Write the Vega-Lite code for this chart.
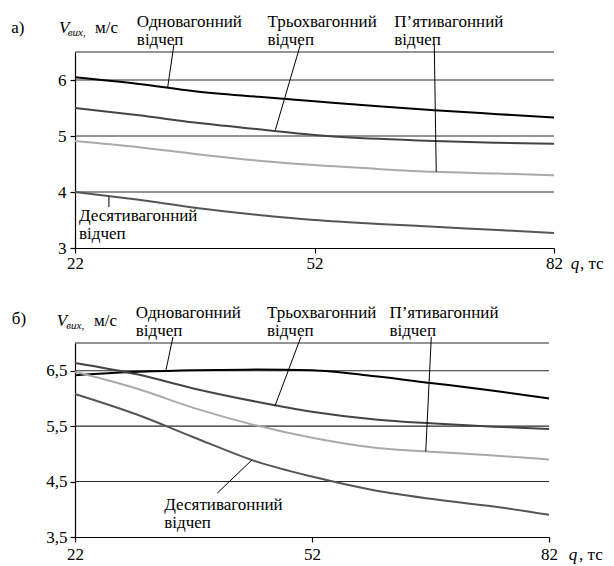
{
  "$schema": "https://vega.github.io/schema/vega-lite/v6.json",
  "padding": {"left": 11, "top": 12, "right": 5, "bottom": 5},
  "bounds": "flush",
  "spacing": 95,
  "background": "white",
  "config": {
    "view": {"stroke": null},
    "font": "Liberation Serif, Times New Roman, DejaVu Serif, serif",
    "axis": {"grid": false, "domainColor": "#000", "domainWidth": 1.2, "tickColor": "#000", "tickSize": 5, "tickWidth": 1.2, "labelFont": "Liberation Serif, Times New Roman, DejaVu Serif, serif", "labelFontSize": 17, "labelColor": "#000", "labelFlush": false, "title": null},
    "axisX": {"labelPadding": 2},
    "axisY": {"labelPadding": 4}
  },
  "datasets": {
    "lines": [
      {"panel": "a", "series": "Одновагонний", "q": 22, "v": 6.05},
      {"panel": "a", "series": "Одновагонний", "q": 30, "v": 5.93},
      {"panel": "a", "series": "Одновагонний", "q": 37, "v": 5.8},
      {"panel": "a", "series": "Одновагонний", "q": 45, "v": 5.7},
      {"panel": "a", "series": "Одновагонний", "q": 52, "v": 5.62},
      {"panel": "a", "series": "Одновагонний", "q": 60, "v": 5.53},
      {"panel": "a", "series": "Одновагонний", "q": 67, "v": 5.46},
      {"panel": "a", "series": "Одновагонний", "q": 75, "v": 5.39},
      {"panel": "a", "series": "Одновагонний", "q": 82, "v": 5.33},
      {"panel": "a", "series": "Трьохвагонний", "q": 22, "v": 5.5},
      {"panel": "a", "series": "Трьохвагонний", "q": 30, "v": 5.37},
      {"panel": "a", "series": "Трьохвагонний", "q": 37, "v": 5.24},
      {"panel": "a", "series": "Трьохвагонний", "q": 45, "v": 5.12},
      {"panel": "a", "series": "Трьохвагонний", "q": 52, "v": 5.02},
      {"panel": "a", "series": "Трьохвагонний", "q": 60, "v": 4.95},
      {"panel": "a", "series": "Трьохвагонний", "q": 67, "v": 4.91},
      {"panel": "a", "series": "Трьохвагонний", "q": 75, "v": 4.88},
      {"panel": "a", "series": "Трьохвагонний", "q": 82, "v": 4.86},
      {"panel": "a", "series": "П’ятивагонний", "q": 22, "v": 4.91},
      {"panel": "a", "series": "П’ятивагонний", "q": 30, "v": 4.8},
      {"panel": "a", "series": "П’ятивагонний", "q": 37, "v": 4.68},
      {"panel": "a", "series": "П’ятивагонний", "q": 45, "v": 4.56},
      {"panel": "a", "series": "П’ятивагонний", "q": 52, "v": 4.48},
      {"panel": "a", "series": "П’ятивагонний", "q": 60, "v": 4.41},
      {"panel": "a", "series": "П’ятивагонний", "q": 67, "v": 4.36},
      {"panel": "a", "series": "П’ятивагонний", "q": 75, "v": 4.33},
      {"panel": "a", "series": "П’ятивагонний", "q": 82, "v": 4.3},
      {"panel": "a", "series": "Десятивагонний", "q": 22, "v": 4.0},
      {"panel": "a", "series": "Десятивагонний", "q": 30, "v": 3.86},
      {"panel": "a", "series": "Десятивагонний", "q": 37, "v": 3.72},
      {"panel": "a", "series": "Десятивагонний", "q": 45, "v": 3.59},
      {"panel": "a", "series": "Десятивагонний", "q": 52, "v": 3.5},
      {"panel": "a", "series": "Десятивагонний", "q": 60, "v": 3.43},
      {"panel": "a", "series": "Десятивагонний", "q": 67, "v": 3.38},
      {"panel": "a", "series": "Десятивагонний", "q": 75, "v": 3.32},
      {"panel": "a", "series": "Десятивагонний", "q": 82, "v": 3.27},
      {"panel": "b", "series": "Одновагонний", "q": 22, "v": 6.42},
      {"panel": "b", "series": "Одновагонний", "q": 30, "v": 6.48},
      {"panel": "b", "series": "Одновагонний", "q": 37, "v": 6.51},
      {"panel": "b", "series": "Одновагонний", "q": 45, "v": 6.52},
      {"panel": "b", "series": "Одновагонний", "q": 52, "v": 6.51},
      {"panel": "b", "series": "Одновагонний", "q": 60, "v": 6.4},
      {"panel": "b", "series": "Одновагонний", "q": 67, "v": 6.28},
      {"panel": "b", "series": "Одновагонний", "q": 75, "v": 6.14},
      {"panel": "b", "series": "Одновагонний", "q": 82, "v": 6.0},
      {"panel": "b", "series": "Трьохвагонний", "q": 22, "v": 6.64},
      {"panel": "b", "series": "Трьохвагонний", "q": 30, "v": 6.43},
      {"panel": "b", "series": "Трьохвагонний", "q": 37, "v": 6.18},
      {"panel": "b", "series": "Трьохвагонний", "q": 45, "v": 5.94},
      {"panel": "b", "series": "Трьохвагонний", "q": 52, "v": 5.76},
      {"panel": "b", "series": "Трьохвагонний", "q": 60, "v": 5.62},
      {"panel": "b", "series": "Трьохвагонний", "q": 67, "v": 5.55},
      {"panel": "b", "series": "Трьохвагонний", "q": 75, "v": 5.49},
      {"panel": "b", "series": "Трьохвагонний", "q": 82, "v": 5.45},
      {"panel": "b", "series": "П’ятивагонний", "q": 22, "v": 6.48},
      {"panel": "b", "series": "П’ятивагонний", "q": 30, "v": 6.17},
      {"panel": "b", "series": "П’ятивагонний", "q": 37, "v": 5.83},
      {"panel": "b", "series": "П’ятивагонний", "q": 45, "v": 5.51},
      {"panel": "b", "series": "П’ятивагонний", "q": 52, "v": 5.29},
      {"panel": "b", "series": "П’ятивагонний", "q": 60, "v": 5.11},
      {"panel": "b", "series": "П’ятивагонний", "q": 67, "v": 5.04},
      {"panel": "b", "series": "П’ятивагонний", "q": 75, "v": 4.97},
      {"panel": "b", "series": "П’ятивагонний", "q": 82, "v": 4.9},
      {"panel": "b", "series": "Десятивагонний", "q": 22, "v": 6.08},
      {"panel": "b", "series": "Десятивагонний", "q": 30, "v": 5.7},
      {"panel": "b", "series": "Десятивагонний", "q": 37, "v": 5.3},
      {"panel": "b", "series": "Десятивагонний", "q": 45, "v": 4.86},
      {"panel": "b", "series": "Десятивагонний", "q": 52, "v": 4.59},
      {"panel": "b", "series": "Десятивагонний", "q": 60, "v": 4.34},
      {"panel": "b", "series": "Десятивагонний", "q": 67, "v": 4.19},
      {"panel": "b", "series": "Десятивагонний", "q": 75, "v": 4.05},
      {"panel": "b", "series": "Десятивагонний", "q": 82, "v": 3.9}
    ],
    "grid": [
      {"panel": "a", "v": 4}, {"panel": "a", "v": 5}, {"panel": "a", "v": 6}, {"panel": "a", "v": 6.5},
      {"panel": "b", "v": 4.5}, {"panel": "b", "v": 5.5}, {"panel": "b", "v": 6.5}, {"panel": "b", "v": 7}
    ],
    "leaders": [
      {"panel": "a", "q": 34.4, "v": 6.64, "q2": 33.6, "v2": 5.86},
      {"panel": "a", "q": 50.25, "v": 6.64, "q2": 47.1, "v2": 5.11},
      {"panel": "a", "q": 67.0, "v": 6.64, "q2": 67.25, "v2": 4.36},
      {"panel": "a", "q": 26.25, "v": 3.92, "q2": 26.25, "v2": 3.73},
      {"panel": "b", "q": 34.4, "v": 7.11, "q2": 33.5, "v2": 6.5},
      {"panel": "b", "q": 50.6, "v": 7.11, "q2": 47.3, "v2": 5.86},
      {"panel": "b", "q": 67.1, "v": 7.11, "q2": 66.4, "v2": 5.04},
      {"panel": "b", "q": 44.4, "v": 4.89, "q2": 40.0, "v2": 4.29}
    ],
    "texts": [
      {"panel": "a", "kind": "plain", "q": 14.0, "v": 6.84, "label": "а)"},
      {"panel": "a", "kind": "italic", "q": 20.0, "v": 6.84, "label": "V"},
      {"panel": "a", "kind": "sub", "q": 21.1, "v": 6.79, "label": "вих,"},
      {"panel": "a", "kind": "plain", "q": 24.5, "v": 6.84, "label": "м/с"},
      {"panel": "a", "kind": "plain", "q": 29.75, "v": 6.95, "label": "Одновагонний\nвідчеп"},
      {"panel": "a", "kind": "plain", "q": 46.1, "v": 6.95, "label": "Трьохвагонний\nвідчеп"},
      {"panel": "a", "kind": "plain", "q": 62.0, "v": 6.95, "label": "П’ятивагонний\nвідчеп"},
      {"panel": "a", "kind": "plain", "q": 22.5, "v": 3.48, "label": "Десятивагонний\nвідчеп"},
      {"panel": "a", "kind": "italic", "q": 84.1, "v": 2.625, "label": "q"},
      {"panel": "a", "kind": "plain", "q": 85.25, "v": 2.625, "label": ", тс"},
      {"panel": "b", "kind": "plain", "q": 14.0, "v": 7.34, "label": "б)"},
      {"panel": "b", "kind": "italic", "q": 19.7, "v": 7.31, "label": "V"},
      {"panel": "b", "kind": "sub", "q": 20.9, "v": 7.25, "label": "вих,"},
      {"panel": "b", "kind": "plain", "q": 24.4, "v": 7.31, "label": "м/с"},
      {"panel": "b", "kind": "plain", "q": 29.7, "v": 7.45, "label": "Одновагонний\nвідчеп"},
      {"panel": "b", "kind": "plain", "q": 46.3, "v": 7.45, "label": "Трьохвагонний\nвідчеп"},
      {"panel": "b", "kind": "plain", "q": 61.8, "v": 7.45, "label": "П’ятивагонний\nвідчеп"},
      {"panel": "b", "kind": "plain", "q": 33.3, "v": 3.99, "label": "Десятивагонний\nвідчеп"},
      {"panel": "b", "kind": "italic", "q": 84.5, "v": 3.085, "label": "q"},
      {"panel": "b", "kind": "plain", "q": 85.8, "v": 3.085, "label": ", тс"}
    ]
  },
  "vconcat": [
    {
      "width": 479,
      "height": 196,
      "layer": [
        {
          "data": {"name": "grid"},
          "transform": [{"filter": "datum.panel == 'a'"}],
          "mark": {"type": "rule", "color": "#2a2a2a", "strokeWidth": 1.1},
          "encoding": {
            "y": {"field": "v", "type": "quantitative", "scale": {"domain": [3, 6.5], "nice": false, "zero": false}, "axis": {"values": [3, 4, 5, 6]}}
          }
        },
        {
          "data": {"name": "lines"},
          "transform": [{"filter": "datum.panel == 'a'"}],
          "mark": {"type": "line", "interpolate": "monotone", "strokeWidth": 2},
          "encoding": {
            "x": {"field": "q", "type": "quantitative", "scale": {"domain": [22, 82], "nice": false, "zero": false}, "axis": {"values": [22, 52, 82]}},
            "y": {"field": "v", "type": "quantitative", "scale": {"domain": [3, 6.5], "nice": false, "zero": false}, "axis": {"values": [3, 4, 5, 6]}},
            "color": {"field": "series", "type": "nominal", "scale": {"domain": ["Одновагонний", "Трьохвагонний", "П’ятивагонний", "Десятивагонний"], "range": ["#000000", "#444444", "#aaaaaa", "#555555"]}, "legend": null}
          }
        },
        {
          "data": {"name": "leaders"},
          "transform": [{"filter": "datum.panel == 'a'"}],
          "mark": {"type": "rule", "color": "#000", "strokeWidth": 1},
          "encoding": {
            "x": {"field": "q", "type": "quantitative", "scale": {"domain": [22, 82], "nice": false, "zero": false}, "axis": {"values": [22, 52, 82]}},
            "x2": {"field": "q2"},
            "y": {"field": "v", "type": "quantitative", "scale": {"domain": [3, 6.5], "nice": false, "zero": false}, "axis": {"values": [3, 4, 5, 6]}},
            "y2": {"field": "v2"}
          }
        },
        {
          "data": {"name": "texts"},
          "transform": [{"filter": "datum.panel == 'a' && datum.kind == 'plain'"}],
          "mark": {"type": "text", "align": "left", "baseline": "alphabetic", "font": "Liberation Serif, Times New Roman, DejaVu Serif, serif", "fontSize": 17, "lineBreak": "\n", "lineHeight": 18, "color": "#000"},
          "encoding": {
            "x": {"field": "q", "type": "quantitative", "scale": {"domain": [22, 82], "nice": false, "zero": false}, "axis": {"values": [22, 52, 82]}},
            "y": {"field": "v", "type": "quantitative", "scale": {"domain": [3, 6.5], "nice": false, "zero": false}, "axis": {"values": [3, 4, 5, 6]}},
            "text": {"field": "label"}
          }
        },
        {
          "data": {"name": "texts"},
          "transform": [{"filter": "datum.panel == 'a' && datum.kind == 'italic'"}],
          "mark": {"type": "text", "align": "left", "baseline": "alphabetic", "font": "Liberation Serif, Times New Roman, DejaVu Serif, serif", "fontSize": 17, "fontStyle": "italic", "color": "#000"},
          "encoding": {
            "x": {"field": "q", "type": "quantitative", "scale": {"domain": [22, 82], "nice": false, "zero": false}, "axis": {"values": [22, 52, 82]}},
            "y": {"field": "v", "type": "quantitative", "scale": {"domain": [3, 6.5], "nice": false, "zero": false}, "axis": {"values": [3, 4, 5, 6]}},
            "text": {"field": "label"}
          }
        },
        {
          "data": {"name": "texts"},
          "transform": [{"filter": "datum.panel == 'a' && datum.kind == 'sub'"}],
          "mark": {"type": "text", "align": "left", "baseline": "alphabetic", "font": "Liberation Serif, Times New Roman, DejaVu Serif, serif", "fontSize": 11, "fontStyle": "italic", "color": "#000"},
          "encoding": {
            "x": {"field": "q", "type": "quantitative", "scale": {"domain": [22, 82], "nice": false, "zero": false}, "axis": {"values": [22, 52, 82]}},
            "y": {"field": "v", "type": "quantitative", "scale": {"domain": [3, 6.5], "nice": false, "zero": false}, "axis": {"values": [3, 4, 5, 6]}},
            "text": {"field": "label"}
          }
        }
      ]
    },
    {
      "width": 474,
      "height": 194,
      "layer": [
        {
          "data": {"name": "grid"},
          "transform": [{"filter": "datum.panel == 'b'"}],
          "mark": {"type": "rule", "color": "#2a2a2a", "strokeWidth": 1.1},
          "encoding": {
            "y": {"field": "v", "type": "quantitative", "scale": {"domain": [3.5, 7], "nice": false, "zero": false}, "axis": {"values": [3.5, 4.5, 5.5, 6.5], "labelExpr": "replace(format(datum.value, '.1f'), '.', ',')", "labelPadding": 3}}
          }
        },
        {
          "data": {"name": "lines"},
          "transform": [{"filter": "datum.panel == 'b'"}],
          "mark": {"type": "line", "interpolate": "monotone", "strokeWidth": 2},
          "encoding": {
            "x": {"field": "q", "type": "quantitative", "scale": {"domain": [22, 82], "nice": false, "zero": false}, "axis": {"values": [22, 52, 82], "labelPadding": 4}},
            "y": {"field": "v", "type": "quantitative", "scale": {"domain": [3.5, 7], "nice": false, "zero": false}, "axis": {"values": [3.5, 4.5, 5.5, 6.5], "labelExpr": "replace(format(datum.value, '.1f'), '.', ',')", "labelPadding": 3}},
            "color": {"field": "series", "type": "nominal", "scale": {"domain": ["Одновагонний", "Трьохвагонний", "П’ятивагонний", "Десятивагонний"], "range": ["#000000", "#444444", "#aaaaaa", "#555555"]}, "legend": null}
          }
        },
        {
          "data": {"name": "leaders"},
          "transform": [{"filter": "datum.panel == 'b'"}],
          "mark": {"type": "rule", "color": "#000", "strokeWidth": 1},
          "encoding": {
            "x": {"field": "q", "type": "quantitative", "scale": {"domain": [22, 82], "nice": false, "zero": false}, "axis": {"values": [22, 52, 82], "labelPadding": 4}},
            "x2": {"field": "q2"},
            "y": {"field": "v", "type": "quantitative", "scale": {"domain": [3.5, 7], "nice": false, "zero": false}, "axis": {"values": [3.5, 4.5, 5.5, 6.5], "labelExpr": "replace(format(datum.value, '.1f'), '.', ',')", "labelPadding": 3}},
            "y2": {"field": "v2"}
          }
        },
        {
          "data": {"name": "texts"},
          "transform": [{"filter": "datum.panel == 'b' && datum.kind == 'plain'"}],
          "mark": {"type": "text", "align": "left", "baseline": "alphabetic", "font": "Liberation Serif, Times New Roman, DejaVu Serif, serif", "fontSize": 17, "lineBreak": "\n", "lineHeight": 18, "color": "#000"},
          "encoding": {
            "x": {"field": "q", "type": "quantitative", "scale": {"domain": [22, 82], "nice": false, "zero": false}, "axis": {"values": [22, 52, 82], "labelPadding": 4}},
            "y": {"field": "v", "type": "quantitative", "scale": {"domain": [3.5, 7], "nice": false, "zero": false}, "axis": {"values": [3.5, 4.5, 5.5, 6.5], "labelExpr": "replace(format(datum.value, '.1f'), '.', ',')", "labelPadding": 3}},
            "text": {"field": "label"}
          }
        },
        {
          "data": {"name": "texts"},
          "transform": [{"filter": "datum.panel == 'b' && datum.kind == 'italic'"}],
          "mark": {"type": "text", "align": "left", "baseline": "alphabetic", "font": "Liberation Serif, Times New Roman, DejaVu Serif, serif", "fontSize": 17, "fontStyle": "italic", "color": "#000"},
          "encoding": {
            "x": {"field": "q", "type": "quantitative", "scale": {"domain": [22, 82], "nice": false, "zero": false}, "axis": {"values": [22, 52, 82], "labelPadding": 4}},
            "y": {"field": "v", "type": "quantitative", "scale": {"domain": [3.5, 7], "nice": false, "zero": false}, "axis": {"values": [3.5, 4.5, 5.5, 6.5], "labelExpr": "replace(format(datum.value, '.1f'), '.', ',')", "labelPadding": 3}},
            "text": {"field": "label"}
          }
        },
        {
          "data": {"name": "texts"},
          "transform": [{"filter": "datum.panel == 'b' && datum.kind == 'sub'"}],
          "mark": {"type": "text", "align": "left", "baseline": "alphabetic", "font": "Liberation Serif, Times New Roman, DejaVu Serif, serif", "fontSize": 11, "fontStyle": "italic", "color": "#000"},
          "encoding": {
            "x": {"field": "q", "type": "quantitative", "scale": {"domain": [22, 82], "nice": false, "zero": false}, "axis": {"values": [22, 52, 82], "labelPadding": 4}},
            "y": {"field": "v", "type": "quantitative", "scale": {"domain": [3.5, 7], "nice": false, "zero": false}, "axis": {"values": [3.5, 4.5, 5.5, 6.5], "labelExpr": "replace(format(datum.value, '.1f'), '.', ',')", "labelPadding": 3}},
            "text": {"field": "label"}
          }
        }
      ]
    }
  ]
}
